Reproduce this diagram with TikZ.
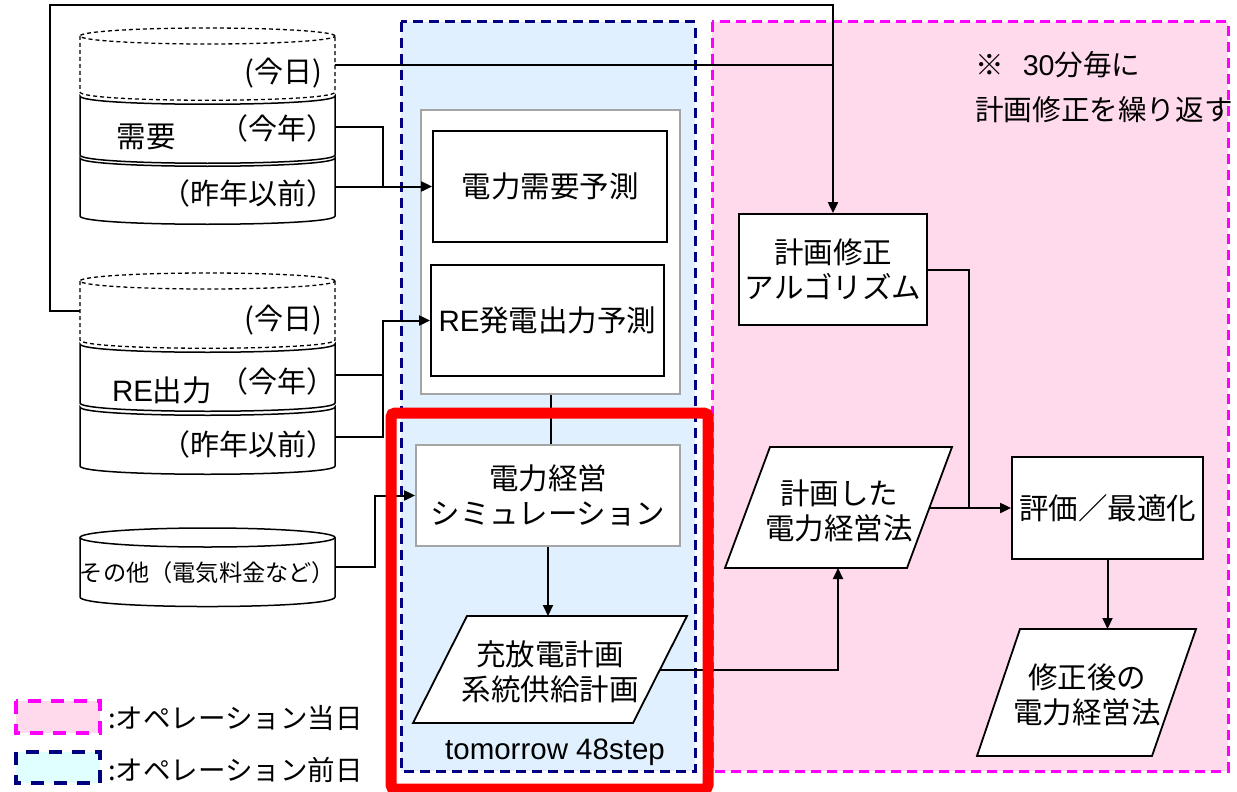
\documentclass[tikz,border=0pt]{standalone}
\usepackage{fontspec}
\setmainfont{Noto Sans CJK JP}
\newfontfamily\arialf{Liberation Sans}
\usetikzlibrary{arrows.meta}
\definecolor{bfill}{RGB}{224,240,255}
\definecolor{pfill}{RGB}{255,217,236}
\definecolor{lbfill}{RGB}{224,255,255}
\definecolor{navyc}{RGB}{0,0,128}
\definecolor{magc}{RGB}{255,0,255}
\definecolor{grayb}{RGB}{165,165,165}
\definecolor{redc}{RGB}{255,0,0}
\newcommand\fsMain{\fontsize{29.5}{35}\selectfont}
\newcommand\fsCyl{\fontsize{29}{32}\selectfont}
\newcommand\fsOth{\fontsize{23.2}{27}\selectfont}
\newcommand\fsLeg{\fontsize{27.5}{30}\selectfont}
\newcommand\fsNote{\fontsize{28.6}{32}\selectfont}
\newcommand\cylseg[2]{\filldraw[fill=white,line width=1.5pt] (80,#1) .. controls (80,#1+11) and (335,#1+11) .. (335,#1) -- (335,#2) .. controls (335,#2+11) and (80,#2+11) .. (80,#2) -- cycle;}
\newcommand\cyltop[2]{%
  \fill[white] (80,#1) -- (80,#2) .. controls (80,#2+11) and (335,#2+11) .. (335,#2) -- (335,#1) -- cycle;
  \draw[line width=1.3pt,dash pattern=on 4pt off 3pt,fill=white] (207.5,#1) ellipse [x radius=127.5pt, y radius=8pt];
  \draw[line width=1.3pt,dash pattern=on 4pt off 3pt] (80,#1) -- (80,#2) .. controls (80,#2+11) and (335,#2+11) .. (335,#2) -- (335,#1);}
\begin{document}
\begin{tikzpicture}[x=1pt,y=-1pt,
  conn/.style={line width=2pt},
  arr/.style={conn,-{Triangle[length=11pt,width=10pt]}},
  box/.style={draw,line width=1.8pt,fill=white,inner sep=0pt,font=\fsMain,align=center},
  gbox/.style={box,draw=grayb},
  para/.style={draw,line width=1.8pt,fill=white},
  lbl/.style={inner sep=0pt,font=\fsMain,align=center}]
\useasboundingbox (0,0) rectangle (1237,792);

% regions
\fill[bfill] (401,22) rectangle (695,771);
\fill[pfill] (712,22) rectangle (1228,771);
\draw[magc,line width=3pt,dash pattern=on 10pt off 6pt] (712,22) rectangle (1228,771);
\draw[navyc,line width=3pt,dash pattern=on 10pt off 6pt] (401,22) rectangle (695,771);

% cylinder 1 (demand)
\cyltop{36}{92}
\cylseg{96}{155}
\cylseg{158}{216}
% cylinder 2 (RE)
\cyltop{281}{340}
\cylseg{344}{403}
\cylseg{407}{466}
% cylinder 3
\filldraw[fill=white,line width=1.5pt] (80,537.5) -- (80,597) .. controls (80,609.7) and (335,609.7) .. (335,597) -- (335,537.5);
\draw[line width=1.5pt,fill=white] (207.5,537.5) ellipse [x radius=127.5pt, y radius=9.5pt];

\node[lbl,font=\fsCyl,anchor=east] (c1today) at (322,73) {(今日)};
\node[lbl] (c1name) at (146,137) {需要};
\node[lbl,font=\fsCyl,anchor=east] (c1year) at (336,128) {（今年）};
\node[lbl,font=\fsCyl,anchor=east] (c1past) at (336,193) {（昨年以前）};
\node[lbl,font=\fsCyl,anchor=east] (c2today) at (322,320) {(今日)};
\node[lbl] (c2name) at (162,390) {{\arialf RE}出力};
\node[lbl,font=\fsCyl,anchor=east] (c2year) at (336,381) {（今年）};
\node[lbl,font=\fsCyl,anchor=east] (c2past) at (336,444) {（昨年以前）};
\node[lbl,font=\fsOth] (c3name) at (207.5,573) {その他（電気料金など）};

% boxes
\node[gbox,minimum width=259pt,minimum height=284pt] (fc) at (550.5,252) {};
\node[box,minimum width=234pt,minimum height=111pt] (dem) at (550,186.5) {電力需要予測};
\node[box,minimum width=233pt,minimum height=111pt] (re) at (547.5,320.5) {{\arialf RE}発電出力予測};
\node[gbox,minimum width=264pt,minimum height=101pt] (sim) at (548,495.5) {電力経営\\シミュレーション};
\node[box,minimum width=188pt,minimum height=111pt] (plan) at (833,269.5) {計画修正\\アルゴリズム};
\node[box,minimum width=191pt,minimum height=102pt] (eval) at (1107.5,508) {評価／最適化};

% parallelograms
\draw[para] (467,616) -- (687,616) -- (633,723) -- (413,723) -- cycle;
\node[lbl] (charge) at (550,672) {充放電計画\\系統供給計画};
\draw[para] (770,447) -- (952,447) -- (907,568) -- (725,568) -- cycle;
\node[lbl] (planned) at (839,511) {計画した\\電力経営法};
\draw[para] (1020,629) -- (1196,629) -- (1152,756) -- (977,756) -- cycle;
\node[lbl] (modified) at (1087,695) {修正後の\\電力経営法};

\node[lbl,font=\arialf\fontsize{29.5}{34}\selectfont] (tmr) at (555,752) {tomorrow 48step};
\node[lbl,font=\fsNote,anchor=west] (note1) at (975,65) {※\hspace{19pt}{\arialf 30}分毎に};
\node[lbl,font=\fsNote,anchor=west] (note2) at (975,110) {計画修正を繰り返す};

% coordinates
\coordinate (c1t) at (335,65);
\coordinate (c1y) at (335,127);
\coordinate (c1p) at (335,186.5);
\coordinate (j1) at (383,127);
\coordinate (c2t) at (80,311);
\coordinate (lpA) at (50,5);
\coordinate (c2y) at (335,375);
\coordinate (c2p) at (335,437);
\coordinate (j2) at (383,375);
\coordinate (c3r) at (335,567);
\coordinate (j3) at (375,567);
\coordinate (chargeT) at (548,616);
\coordinate (chargeR) at (660,670);
\coordinate (plannedB) at (838,568);
\coordinate (plannedR) at (929,508);
\coordinate (j5) at (969,508);
\coordinate (modT) at (1107.5,629);

% connectors
\draw[arr] (c2t) -| (lpA) -| (plan.north);
\draw[conn] (c1t) -- (c1t -| plan.north);
\draw[arr] (c1y) -- (j1) |- (dem.west);
\draw[conn] (c1p) -- (c1p -| j1);
\draw[arr] (c2y) -- (j2) |- (re.west);
\draw[conn] (c2p) -| (j2);
\draw[arr] (c3r) -- (j3) |- (sim.west);
\draw[conn] (fc.south) -- (fc.south |- sim.north);
\draw[arr] (sim.south) -- (chargeT);
\draw[arr] (chargeR) -| (plannedB);
\draw[arr] (plannedR) -- (eval.west);
\draw[conn] (plan.east) -| (j5);
\draw[arr] (eval.south) -- (modT);

% red frame
\draw[redc,line width=11pt,rounded corners=4pt] (391,413) rectangle (708,789);

% legend
\draw[magc,fill=pfill,line width=4pt,dash pattern=on 13pt off 10pt] (16,701) rectangle (100,733);
\draw[navyc,fill=lbfill,line width=4pt,dash pattern=on 13pt off 10pt] (16,752) rectangle (100,783);
\node[lbl,font=\fsLeg,anchor=west] (leg1) at (108,718) {:オペレーション当日};
\node[lbl,font=\fsLeg,anchor=west] (leg2) at (108,770) {:オペレーション前日};
\end{tikzpicture}
\end{document}
